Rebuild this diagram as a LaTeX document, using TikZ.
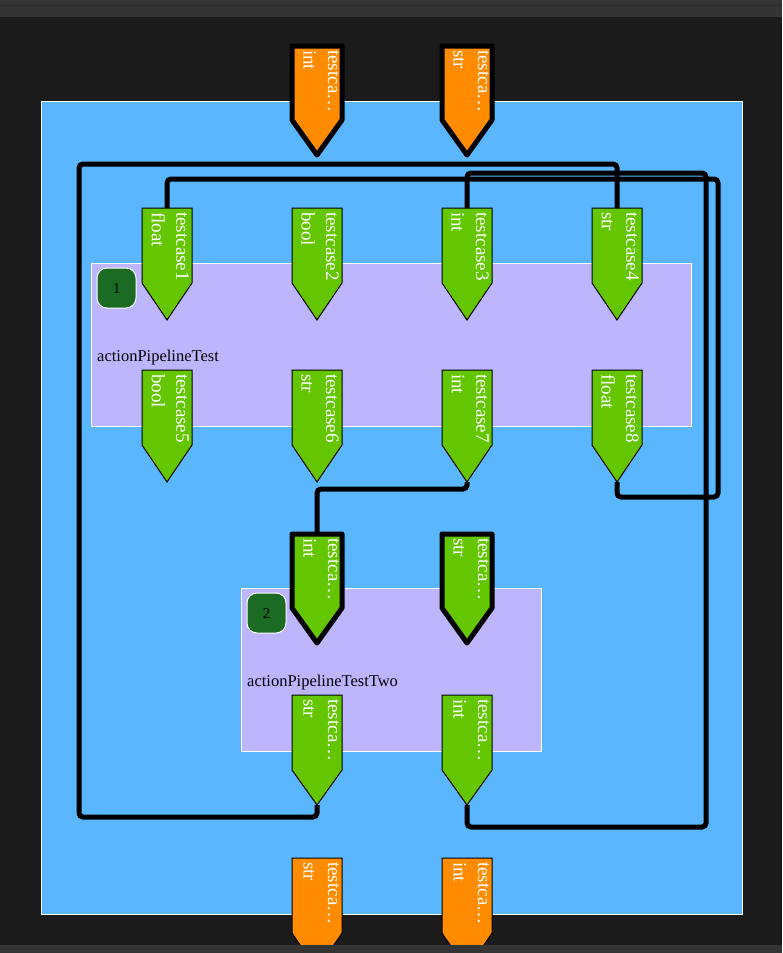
\documentclass[tikz,border=0pt]{standalone}
\usepackage{fontspec}
\setmainfont{Liberation Serif}
\definecolor{bgdark}{RGB}{27,27,27}
\definecolor{bandgray}{RGB}{52,52,52}
\definecolor{bandline}{RGB}{42,42,42}
\definecolor{canvasblue}{RGB}{89,182,255}
\definecolor{lavender}{RGB}{189,182,255}
\definecolor{portgreen}{RGB}{99,198,0}
\definecolor{portorange}{RGB}{255,140,0}
\definecolor{badgegreen}{RGB}{27,107,37}
\tikzset{
  greenport/.style={fill=portgreen,draw=black,line width=1pt},
  greenthick/.style={fill=portgreen,draw=black,line width=5pt,line join=round},
  orangethick/.style={fill=portorange,draw=black,line width=5pt,line join=round},
  orangethin/.style={fill=portorange,draw=black,line width=1pt},
  porttext/.style={rotate=-90,anchor=north west,inner sep=0pt,align=left,text=white,font=\fontsize{19}{24.5}\selectfont},
  groupbox/.style={fill=lavender,draw=white,line width=1pt},
  badge/.style={fill=badgegreen,draw=white,line width=1pt,rounded corners=10pt},
  badgetext/.style={text=black,inner sep=0pt,font=\fontsize{15}{15}\selectfont},
  grouplabel/.style={anchor=base west,inner sep=0pt,text=black,font=\fontsize{16.5}{16.5}\selectfont},
  wire/.style={draw=black,line width=5pt,rounded corners=4pt}
}
\newcommand\Port[8]{%
  \draw[#6] ({#2-25},#3) -- ({#2+25},#3) -- ({#2+25},#4) -- (#2,#5) -- ({#2-25},#4) -- cycle;
  \coordinate (#1-top) at (#2,#3);
  \coordinate (#1-tip) at (#2,#5);
  \node[porttext] (#1) at ({#2+22},{#3+4}) {#7\\#8};
}
\begin{document}
\begin{tikzpicture}[x=1pt,y=-1pt]
\useasboundingbox (0,0) rectangle (782,953);
% background
\fill[bgdark] (0,0) rectangle (782,953);
\fill[bandgray] (0,0) rectangle (782,17);
\draw[bandline,line width=1pt] (0,5.5) -- (782,5.5);
% canvas
\draw[fill=canvasblue,draw=white,line width=1pt] (41,101) rectangle (742,914);
% group boxes
\draw[groupbox] (91,263) rectangle (691,426);
\draw[groupbox] (241,588) rectangle (541,751);
\draw[badge] (97,268) rectangle (136,308);
\node[badgetext] (b1) at (116.5,289) {1};
\draw[badge] (247,593) rectangle (286,633);
\node[badgetext] (b2) at (266.5,614) {2};
\node[grouplabel] (lab1) at (97,361) {actionPipelineTest};
\node[grouplabel] (lab2) at (247,686) {actionPipelineTestTwo};
% ports
\Port{tc1}{167}{208}{283}{320}{greenport}{testcase1}{float}
\Port{tc2}{317}{208}{283}{320}{greenport}{testcase2}{bool}
\Port{tc3}{467}{208}{283}{320}{greenport}{testcase3}{int}
\Port{tc4}{617}{208}{283}{320}{greenport}{testcase4}{str}
\Port{tc5}{167}{370}{445}{482}{greenport}{testcase5}{bool}
\Port{tc6}{317}{370}{445}{482}{greenport}{testcase6}{str}
\Port{tc7}{467}{370}{445}{482}{greenport}{testcase7}{int}
\Port{tc8}{617}{370}{445}{482}{greenport}{testcase8}{float}
\Port{bi1}{317}{534}{608}{643}{greenthick}{testca…}{int}
\Port{bi2}{467}{534}{608}{643}{greenthick}{testca…}{str}
\Port{bo1}{317}{695}{770}{805}{greenport}{testca…}{str}
\Port{bo2}{467}{695}{770}{805}{greenport}{testca…}{int}
\Port{ti1}{317}{46}{120}{155}{orangethick}{testca…}{int}
\Port{ti2}{467}{46}{120}{155}{orangethick}{testca…}{str}
\Port{to1}{317}{858}{933}{970}{orangethin}{testca…}{str}
\Port{to2}{467}{858}{933}{970}{orangethin}{testca…}{int}
% wires
\draw[wire] (bo1-tip) -- (317,817) -- (79,817) -- (79,164) -- (617,164) -- (tc4-top);
\draw[wire] (tc8-tip) -- (617,497) -- (718,497) -- (718,179) -- (167,179) -- (tc1-top);
\draw[wire] (bo2-tip) -- (467,827) -- (706,827) -- (706,173) -- (467,173) -- (tc3-top);
\draw[wire] (tc7-tip) -- (467,489) -- (317,489) -- (bi1-top);
% bottom band
\fill[bandgray] (0,945) rectangle (782,953);
\end{tikzpicture}
\end{document}
